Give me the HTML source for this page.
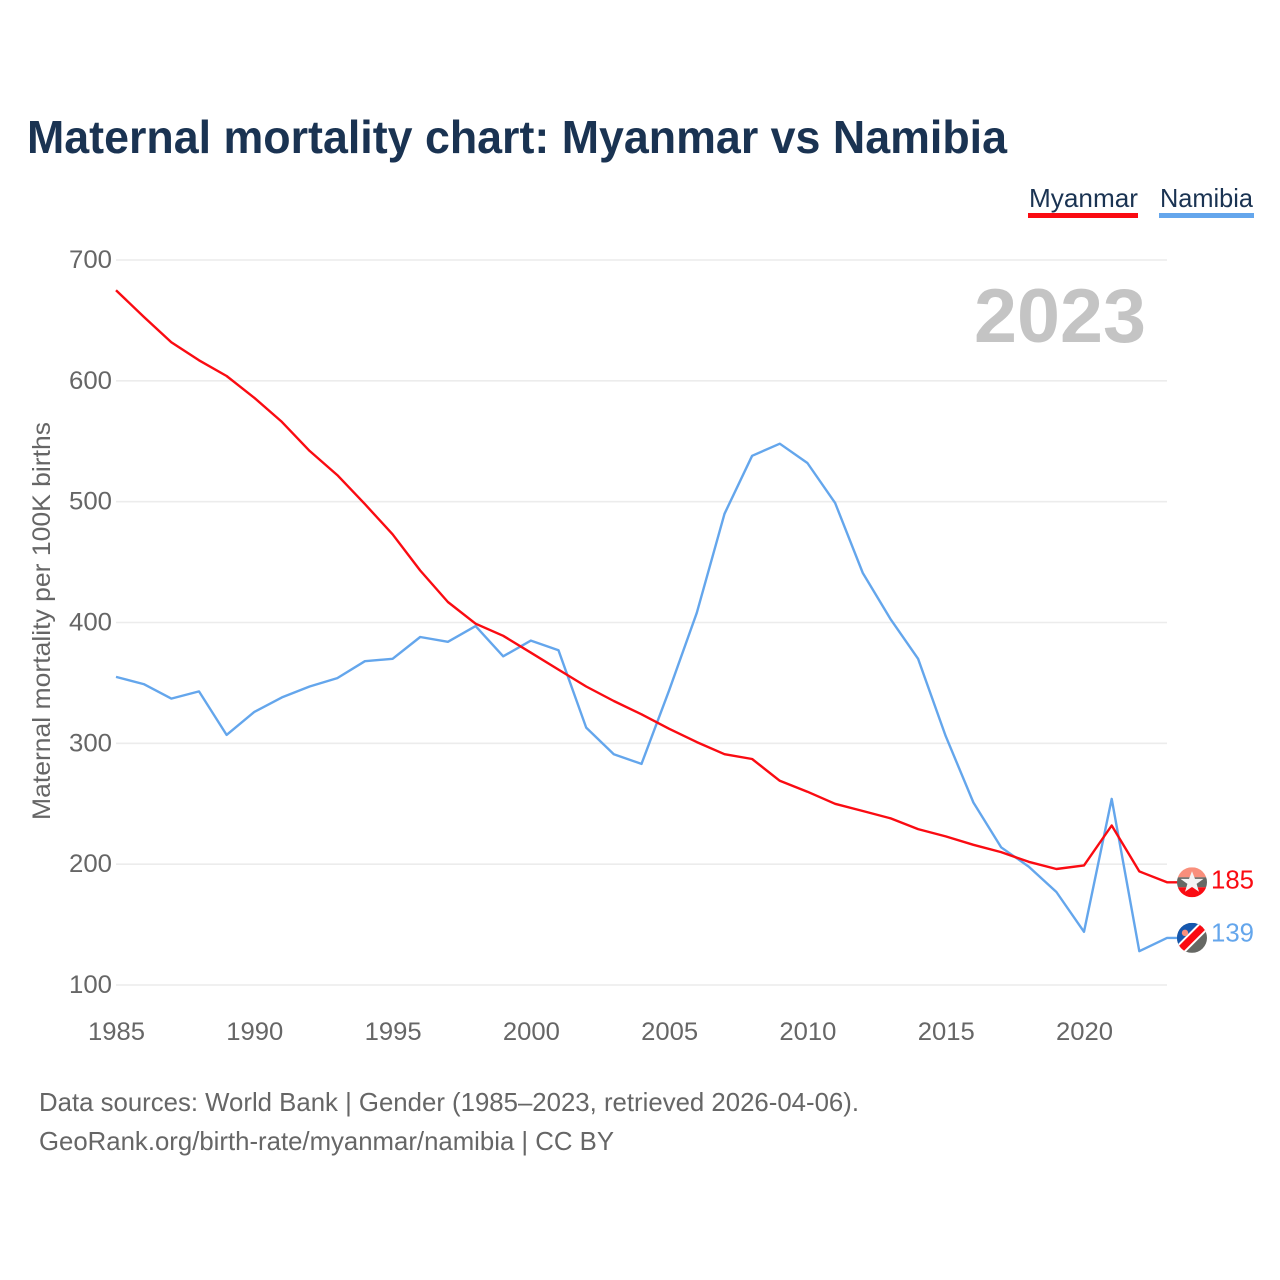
<!DOCTYPE html>
<html lang="en">
<head>
<meta charset="utf-8">
<title>Maternal mortality chart: Myanmar vs Namibia</title>
<style>
html,body{margin:0;padding:0;background:#fff;width:1280px;height:1280px;overflow:hidden}
svg{display:block}
text{font-family:"Liberation Sans",sans-serif}
</style>
</head>
<body>
<svg id="chart" xmlns="http://www.w3.org/2000/svg" width="1280" height="1280" viewBox="0 0 1280 1280">
  <defs>
    <clipPath id="clip-mm"><circle id="clip-mm-circle" r="15"></circle></clipPath>
    <clipPath id="clip-na"><circle id="clip-na-circle" r="15"></circle></clipPath>
  </defs>
  <rect width="1280" height="1280" fill="#fff"></rect>
  <text x="27" y="153" font-size="46" font-weight="700" fill="#1a3352" textLength="980" lengthAdjust="spacingAndGlyphs">Maternal mortality chart: Myanmar vs Namibia</text>

  <g>
    <g>
      <text x="1029" y="207" font-size="26" fill="#1a3352" textLength="109" lengthAdjust="spacingAndGlyphs">Myanmar</text>
      <rect x="1028" y="213" width="110" height="5" fill="#fa0b12"></rect>
    </g>
    <g>
      <text x="1160" y="207" font-size="26" fill="#1a3352" textLength="93" lengthAdjust="spacingAndGlyphs">Namibia</text>
      <rect x="1159" y="213" width="95" height="5" fill="#64a6ec"></rect>
    </g>
  </g>

  <g id="grid"></g>
  <g id="y-ticks"></g>
  <g id="x-ticks"></g>

  <text x="1146" y="342" text-anchor="end" font-size="76" font-weight="700" fill="#c4c4c4" textLength="172" lengthAdjust="spacingAndGlyphs">2023</text>

  <text transform="translate(50,820) rotate(-90)" font-size="25" fill="#666" textLength="398" lengthAdjust="spacingAndGlyphs">Maternal mortality per 100K births</text>

  <g id="series"></g>

  <g id="flag-myanmar">
    <g clip-path="url(#clip-mm)">
      <rect x="-15" y="-15" width="30" height="10" fill="#f98f7c"></rect>
      <rect x="-15" y="-5" width="30" height="10" fill="#666864"></rect>
      <rect x="-15" y="5" width="30" height="10" fill="#fa0b12"></rect>
      <polygon points="0,-11 3,-3.4 11.5,-3.4 4.6,1.6 7,9.5 0,4.6 -7,9.5 -4.6,1.6 -11.5,-3.4 -3,-3.4" fill="#f4f4f4"></polygon>
    </g>
  </g>
  <g id="flag-namibia">
    <g clip-path="url(#clip-na)">
      <rect x="-15" y="-15" width="30" height="30" fill="#666864"></rect>
      <polygon points="-15,-15 15,-15 -15,15" fill="#1557ae"></polygon>
      <line x1="-15" y1="15" x2="15" y2="-15" stroke="#fff" stroke-width="11"></line>
      <line x1="-15" y1="15" x2="15" y2="-15" stroke="#fa0b12" stroke-width="7"></line>
      <circle cx="-7" cy="-5" r="3.2" fill="#f98f7c"></circle>
    </g>
  </g>
  <g id="end-labels"></g>

  <text x="39" y="1111" font-size="26" fill="#666" textLength="820" lengthAdjust="spacingAndGlyphs">Data sources: World Bank | Gender (1985–2023, retrieved 2026-04-06).</text>
  <text x="39" y="1150" font-size="26" fill="#666" textLength="575" lengthAdjust="spacingAndGlyphs">GeoRank.org/birth-rate/myanmar/namibia | CC BY</text>
</svg>
<script>
const years = [1985,1986,1987,1988,1989,1990,1991,1992,1993,1994,1995,1996,1997,1998,1999,2000,2001,2002,2003,2004,2005,2006,2007,2008,2009,2010,2011,2012,2013,2014,2015,2016,2017,2018,2019,2020,2021,2022,2023];
const myanmar = [675,653,632,617,604,586,566,542,522,498,473,443,417,399,389,375,361,347,335,324,312,301,291,287,269,260,250,244,238,229,223,216,210,202,196,199,232,194,185];
const namibia = [355,349,337,343,307,326,338,347,354,368,370,388,384,397,372,385,377,313,291,283,344,408,490,538,548,532,499,441,403,370,306,251,214,198,177,144,254,128,139];
const yTicks = [100,200,300,400,500,600,700];
const xTicks = [1985,1990,1995,2000,2005,2010,2015,2020];

const NS = 'http://www.w3.org/2000/svg';
const plotLeft = 116, plotRight = 1167, plotTop = 260, plotBottom = 985;
function xScale(year){
  return plotLeft + (year - years[0]) / (years[years.length - 1] - years[0]) * (plotRight - plotLeft);
}
function yScale(value){
  return plotBottom - (value - 100) / 600 * (plotBottom - plotTop);
}
function make(tag, parentId, props, content){
  const el = document.createElementNS(NS, tag);
  Object.keys(props).forEach(function(k){ el.setAttribute(k, props[k]); });
  if (content !== undefined) el.textContent = content;
  document.getElementById(parentId).appendChild(el);
  return el;
}

yTicks.forEach(function(t){
  const y = yScale(t);
  const gl = make('line', 'grid', {x1: plotLeft, x2: plotRight, y1: y, y2: y, stroke: '#ececec', 'stroke-width': 1.6});
  
  
  const lab = make('text', 'y-ticks', {x: 112, y: y + 8, 'text-anchor': 'end', 'font-size': 25, fill: '#666', textLength: 43, lengthAdjust: 'spacingAndGlyphs'}, String(t));
  
  
});

xTicks.forEach(function(t){
  const lab = make('text', 'x-ticks', {x: xScale(t) + 0.5, y: 1040, 'text-anchor': 'middle', 'font-size': 25, fill: '#666', textLength: 57, lengthAdjust: 'spacingAndGlyphs'}, String(t));
  
  
});

function drawSeries(values, color, name){
  const pts = values.map(function(v, i){ return xScale(years[i]).toFixed(1) + ',' + yScale(v).toFixed(1); });
  const lastY = yScale(values[values.length - 1]).toFixed(1);
  pts.push((plotRight + 12) + ',' + lastY);
  const line = make('polyline', 'series', {points: pts.join(' '), fill: 'none', stroke: color, 'stroke-width': 2.4, 'stroke-linejoin': 'round'});
  
  
}
drawSeries(namibia, '#64a6ec', 'namibia');
drawSeries(myanmar, '#fa0b12', 'myanmar');

function placeEnd(values, flagId, clipId, color, name){
  const v = values[values.length - 1];
  const y = yScale(v);
  document.getElementById(flagId).setAttribute('transform', 'translate(1192,' + y + ')');
  document.getElementById(clipId).setAttribute('cx', 0);
  document.getElementById(clipId).setAttribute('cy', 0);
  const lab = make('text', 'end-labels', {x: 1211, y: y + 6 - (name === 'namibia' ? 1 : 0) * 2.5, 'font-size': 26, fill: color, textLength: 43, lengthAdjust: 'spacingAndGlyphs'}, String(v));
  
  
}
placeEnd(myanmar, 'flag-myanmar', 'clip-mm-circle', '#fa0b12', 'myanmar');
placeEnd(namibia, 'flag-namibia', 'clip-na-circle', '#64a6ec', 'namibia');
</script>
</body>
</html>
